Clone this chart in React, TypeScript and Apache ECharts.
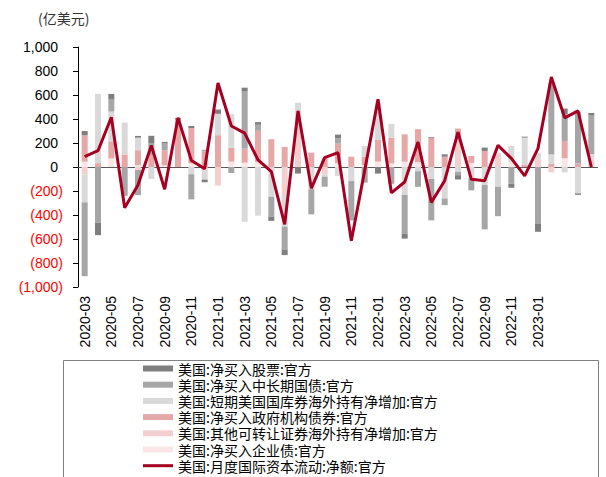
import React, { useEffect, useRef } from "react";
import * as echarts from "echarts";

const categories = [
  "2020-03", "2020-04", "2020-05", "2020-06", "2020-07", "2020-08", "2020-09", "2020-10", "2020-11", "2020-12",
  "2021-01", "2021-02", "2021-03", "2021-04", "2021-05", "2021-06", "2021-07", "2021-08", "2021-09", "2021-10",
  "2021-11", "2021-12", "2022-01", "2022-02", "2022-03", "2022-04", "2022-05", "2022-06", "2022-07", "2022-08",
  "2022-09", "2022-10", "2022-11", "2022-12", "2023-01", "2023-02", "2023-03", "2023-04", "2023-05",
];
const lastLabelIndex = 34;

const equities = [35, -103, 47, 0, 14, 60, 14, 12, 17, -22, 36, 0, 33, 22, -36, -47, -55, 0, 0, 30, 0, 0, -55, 0, -42, 0, 8, 20, -36, 0, 28, 0, -33, 8, -70, 0, 45, -12, 22];
const longTreasuries = [-615, -465, 100, -240, -210, 100, 56, 0, -210, 14, 0, -50, 475, 50, -165, -190, 0, -210, -84, 45, -328, -130, 0, -140, -322, -130, -345, -55, -28, -100, -370, -245, -140, 0, -470, 590, 225, 430, 320];
const tBills = [-233, 578, 248, 270, 105, -100, 0, 0, -60, -105, 178, 280, -457, -405, -248, -272, 65, -185, -20, -75, -117, 90, 310, 115, -233, -35, -100, -263, -40, -95, -150, -165, 135, 225, 50, 80, -45, -220, 36];
const agencyBonds = [220, 32, 142, 100, 125, 100, 125, 395, 295, 130, 265, 115, 117, 262, 232, 167, 0, 120, 70, 165, 86, 70, 180, 215, 228, 275, 240, 86, 100, 57, 134, 0, 0, 20, 0, 25, 145, 30, 0];
const otherSecurities = [-62, 0, 0, 0, -25, 0, 0, 0, 0, 0, -155, 0, 0, 0, 0, -225, 470, 0, -60, 0, 0, 0, 0, 0, 0, 0, 0, 0, 220, 0, 0, 115, 0, 0, 65, -45, 0, 0, 72];
const corporateBonds = [45, 0, 72, 0, 15, 0, 14, 0, 30, 0, 0, 45, 36, 40, 0, 0, 0, 0, 0, 30, 0, 15, 45, 30, 44, 40, 0, 0, 0, 35, 0, 0, 40, 0, 0, 0, 72, 0, 0];
const netFlow = [86, 136, 415, -339, -150, 180, -185, 410, 55, -15, 700, 342, 282, 60, -38, -478, 468, -178, 78, 120, -614, -30, 565, -215, -125, 208, -295, -114, 290, -103, -114, 180, 72, -74, 155, 750, 410, 468, 0];

const names = {
  eq: "美国:净买入股票:官方",
  lt: "美国:净买入中长期国债:官方",
  tb: "美国:短期美国国库券海外持有净增加:官方",
  ag: "美国:净买入政府机构债券:官方",
  ot: "美国:其他可转让证券海外持有净增加:官方",
  co: "美国:净买入企业债:官方",
  net: "美国:月度国际资本流动:净额:官方",
};
const unitLabel = "(亿美元)";

const SANS = '"Liberation Sans", "Noto Sans CJK SC", sans-serif';
const CJK = '"Noto Sans CJK SC", "Liberation Sans", sans-serif';

function fmt(n: number): string {
  return Math.abs(n).toLocaleString("en-US");
}

export default function App() {
  const ref = useRef<HTMLDivElement>(null);
  useEffect(() => {
    if (!ref.current) return;
    const chart = echarts.init(ref.current, undefined, { renderer: "svg" });
    const bar = (name: string, data: number[], color: string) => ({
      name,
      type: "bar",
      stack: "total",
      barWidth: 6,
      data,
      itemStyle: { color },
      emphasis: { disabled: true },
    });
    chart.setOption({
      animation: false,
      grid: { left: 78, right: 8, top: 47, bottom: 190, containLabel: false },
      graphic: [
        {
          type: "text",
          left: 38,
          top: 11,
          style: { text: unitLabel, fontSize: 14, fill: "#333", fontFamily: CJK },
        },
        {
          type: "rect",
          shape: { x: 63.5, y: 360.5, width: 535, height: 130 },
          style: { fill: "none", stroke: "#808080", lineWidth: 1 },
          silent: true,
        },
      ],
      legend: {
        orient: "vertical",
        left: 143,
        top: 361,
        padding: 0,
        itemGap: 1.2,
        itemWidth: 30,
        itemHeight: 6,
        textStyle: { fontSize: 14, lineHeight: 15, color: "#000", fontFamily: CJK },
        data: [
          { name: names.eq, icon: "rect" },
          { name: names.lt, icon: "rect" },
          { name: names.tb, icon: "rect" },
          { name: names.ag, icon: "rect" },
          { name: names.ot, icon: "rect" },
          { name: names.co, icon: "rect" },
          { name: names.net, icon: "path://M0,0L100,0L100,10L0,10Z" },
        ],
      },
      xAxis: {
        type: "category",
        data: categories,
        position: "bottom",
        axisLine: { show: false },
        axisTick: { show: false },
        axisLabel: {
          rotate: 90,
          interval: 1,
          margin: 9,
          fontSize: 14,
          color: "#000",
          fontFamily: SANS,
          formatter: (v: string, i: number) => (i > lastLabelIndex ? "" : v),
        },
        splitLine: { show: false },
      },
      yAxis: {
        type: "value",
        min: -1000,
        max: 1000,
        interval: 200,
        axisLine: { show: true, lineStyle: { color: "#000", width: 1 } },
        axisTick: { show: true, length: 5, inside: false, lineStyle: { color: "#000" } },
        splitLine: { show: false },
        axisLabel: {
          margin: 15,
          fontSize: 14,
          fontFamily: SANS,
          formatter: (v: number) => (v >= 0 ? `{p|${fmt(v)}}` : `{n|(${fmt(v)})}`),
          rich: {
            p: { color: "#000", fontSize: 14, fontFamily: SANS, padding: [0, 5, 0, 0] },
            n: { color: "#ff0000", fontSize: 14, fontFamily: SANS },
          },
        },
      },
      series: [
        bar(names.co, corporateBonds, "#fae6e6"),
        bar(names.ot, otherSecurities, "#f4cfcf"),
        bar(names.ag, agencyBonds, "#e6a7a7"),
        bar(names.tb, tBills, "#d9d9d9"),
        bar(names.lt, longTreasuries, "#a6a6a6"),
        bar(names.eq, equities, "#7f7f7f"),
        {
          name: names.net,
          type: "line",
          data: netFlow,
          symbol: "none",
          lineStyle: { color: "#a50021", width: 3 },
          itemStyle: { color: "#a50021" },
          z: 5,
          emphasis: { disabled: true },
          markLine: {
            silent: true,
            symbol: "none",
            label: { show: false },
            lineStyle: { color: "#595959", width: 1, type: "solid" },
            data: [{ yAxis: 0 }],
            z: 1,
          },
        },
      ],
    });
    return () => chart.dispose();
  }, []);
  return (
    <div
      ref={ref}
      style={{ position: "absolute", left: 0, top: 0, width: 606, height: 477, background: "#fff" }}
    />
  );
}
